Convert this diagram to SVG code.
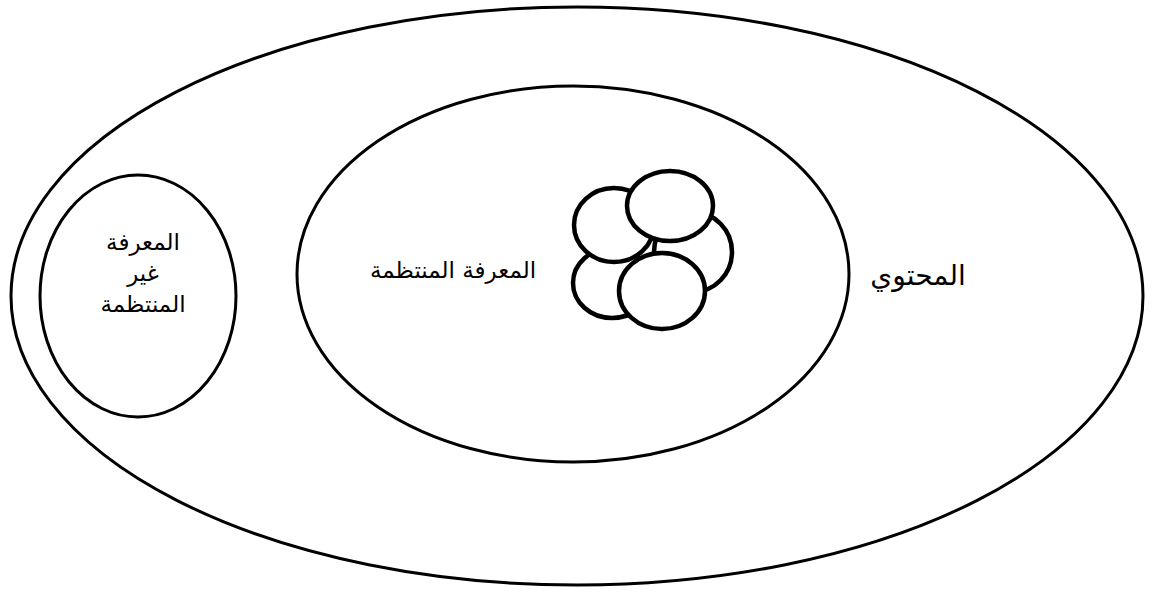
<svg xmlns="http://www.w3.org/2000/svg" width="1152" height="594" viewBox="0 0 1152 594">
<style>
.e{fill:#fff;stroke:#000;stroke-width:3}
.s{fill:#fff;stroke:#000;stroke-width:4.5}
.t{font-family:"DejaVu Sans","Liberation Sans",sans-serif;fill:#000;text-anchor:middle;direction:rtl}
</style>
<rect width="1152" height="594" fill="#fff"/>
<g id="content"><ellipse class="e" cx="577" cy="296" rx="566" ry="289"/>
<text class="t" x="918" y="285" font-size="28">المحتوي</text></g>
<g id="unstructured"><ellipse class="e" cx="138" cy="296" rx="98" ry="121"/>
<text class="t" x="143" y="250" font-size="23">المعرفة</text>
<text class="t" x="143" y="281" font-size="23">غير</text>
<text class="t" x="143" y="312" font-size="23">المنتظمة</text></g>
<g id="structured"><ellipse class="e" cx="573" cy="274" rx="276" ry="188"/>
<text class="t" x="453" y="278" font-size="23">المعرفة المنتظمة</text></g>
<g id="cluster">
<ellipse class="s" cx="612" cy="283" rx="39" ry="35"/>
<ellipse class="s" cx="693" cy="252" rx="39" ry="40"/>
<ellipse class="s" cx="614" cy="225" rx="40" ry="37"/>
<ellipse class="s" cx="670" cy="206" rx="43" ry="35"/>
<ellipse class="s" cx="662" cy="291" rx="43" ry="38"/>
</g>
<g id="connectors"/>
</svg>
